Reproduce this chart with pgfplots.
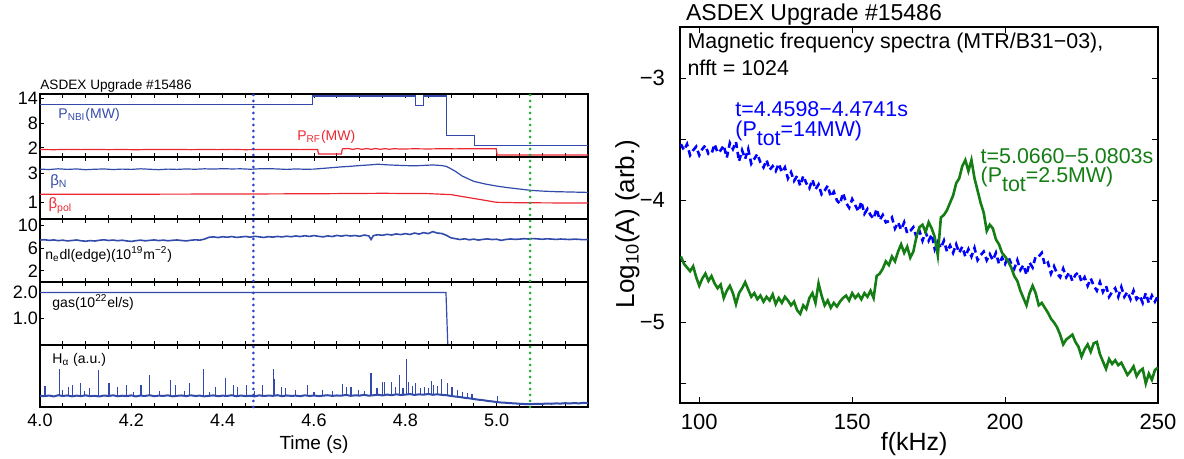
\documentclass[border=0pt]{standalone}
\usepackage{pgfplots}
\pgfplotsset{compat=1.18}
\usepackage{fontspec}
\setmainfont{Liberation Sans}

\definecolor{lblue}{RGB}{50,75,170}
\definecolor{lred}{RGB}{235,40,50}
\definecolor{sblue}{RGB}{0,0,255}
\definecolor{sgreen}{RGB}{20,125,20}
\definecolor{mblue}{RGB}{40,70,205}
\definecolor{mgreen}{RGB}{40,170,60}

\newcommand{\fs}[1]{\fontsize{#1}{#1}\selectfont}

\pgfplotsset{
  panel/.style={
    scale only axis, width=274pt, anchor=north west,
    xmin=4.0, xmax=5.2,
    xtick={4.0,4.2,4.4,4.6,4.8,5.0,5.2}, minor x tick num=3,
    xticklabels={},
    tick align=inside, xtick pos=both, ytick pos=left,
    major tick length=2.2pt, minor tick length=2.2pt,
    tick style={black, line width=0.5pt},
    axis line style={black, line width=0.7pt},
    yticklabel style={font=\fs{9}, xshift=2.5pt},
    xticklabel style={font=\fs{9}},
    clip mode=individual,
  },
}

\begin{document}
\begin{tikzpicture}
\path[use as bounding box] (0,0) rectangle (592pt,-229.5pt);

% ---------------- P_NBI and P_RF ----------------
\begin{axis}[panel, at={(20pt,-47pt)}, height=31.5pt,
  ymin=-0.2, ymax=15, ytick={2,8,14}, yticklabels={2,8,14}]
\addplot[lblue, line width=0.6pt] coordinates {
(4.000,12.5)(4.597,12.5)(4.597,14.5)(4.822,14.5)(4.822,12.2)(4.839,12.2)
(4.839,14.5)(4.891,14.5)(4.891,5.0)(4.951,5.0)(4.951,2.5)(5.200,2.5)};
\addplot[lred, line width=0.6pt] coordinates {
(4.000,1.62)(4.030,1.56)(4.060,1.64)(4.090,1.58)(4.120,1.63)(4.150,1.57)
(4.180,1.61)(4.210,1.55)(4.240,1.62)(4.270,1.59)(4.300,1.63)(4.330,1.57)
(4.360,1.61)(4.390,1.58)(4.420,1.64)(4.450,1.56)(4.480,1.62)(4.510,1.59)
(4.540,1.63)(4.570,1.58)(4.600,1.62)(4.608,1.62)(4.610,0.50)(4.660,0.50)
(4.662,1.75)(4.675,1.85)(4.685,1.62)(4.695,1.86)(4.705,1.64)(4.715,1.84)
(4.725,1.66)(4.735,1.83)(4.745,1.65)(4.755,1.82)(4.765,1.67)(4.775,1.80)
(4.790,1.72)(4.820,1.78)(4.850,1.74)(4.880,1.79)(4.910,1.76)(4.940,1.80)
(4.970,1.78)(4.999,1.80)(5.001,0.30)(5.200,0.30)};
\node[anchor=base west, font=\fs{6.8}, inner sep=0pt] at (rel axis cs:0,1) [yshift=2pt] {ASDEX Upgrade \#15486};
\node[anchor=west, font=\fs{7}, text=lblue, inner sep=0pt] at (rel axis cs:0.033,0.67) {P\textsubscript{NBI}(MW)};
\node[anchor=west, font=\fs{7}, text=lred, inner sep=0pt] at (rel axis cs:0.469,0.32) {P\textsubscript{RF}(MW)};
\end{axis}

% ---------------- beta_N and beta_pol ----------------
\begin{axis}[panel, at={(20pt,-78.5pt)}, height=31pt,
  ymin=-0.1, ymax=4.1, ytick={1,3}, yticklabels={1,3}]
\addplot[lblue, line width=0.6pt] coordinates {
(4.00,3.28)(4.02,3.25)(4.04,3.30)(4.06,3.26)(4.08,3.29)(4.10,3.24)(4.12,3.27)
(4.14,3.29)(4.16,3.25)(4.18,3.28)(4.20,3.26)(4.22,3.30)(4.24,3.27)(4.26,3.24)
(4.28,3.28)(4.30,3.26)(4.32,3.29)(4.34,3.27)(4.36,3.30)(4.38,3.28)(4.40,3.31)
(4.42,3.29)(4.44,3.30)(4.46,3.27)(4.48,3.30)(4.50,3.31)(4.52,3.29)(4.54,3.26)
(4.56,3.29)(4.58,3.27)(4.60,3.28)(4.62,3.33)(4.64,3.38)(4.66,3.43)(4.68,3.47)
(4.70,3.52)(4.72,3.56)(4.74,3.61)(4.76,3.57)(4.78,3.54)(4.80,3.52)(4.82,3.50)
(4.84,3.53)(4.86,3.56)(4.88,3.52)(4.89,3.46)(4.90,3.30)(4.91,3.12)(4.925,2.80)
(4.95,2.45)(4.975,2.27)(5.00,2.13)(5.025,2.02)(5.05,1.93)(5.075,1.84)(5.10,1.79)
(5.13,1.75)(5.16,1.73)(5.20,1.70)};
\addplot[lred, line width=0.6pt] coordinates {
(4.00,1.57)(4.20,1.58)(4.40,1.59)(4.60,1.61)(4.75,1.64)(4.85,1.62)(4.90,1.55)
(5.00,1.03)(5.05,1.00)(5.20,0.98)};
\node[anchor=west, font=\fs{7.5}, text=lblue, inner sep=0pt] at (rel axis cs:0.018,0.61) {β\textsubscript{N}};
\node[anchor=west, font=\fs{7.5}, text=lred, inner sep=0pt] at (rel axis cs:0.015,0.21) {β\textsubscript{pol}};
\end{axis}

% ---------------- line density ----------------
\begin{axis}[panel, at={(20pt,-109.5pt)}, height=31.5pt,
  ymin=0, ymax=11.2, ytick={2,6,10}, yticklabels={2,6,10}]
\addplot[lblue, line width=0.8pt] coordinates {
(4.00,7.45)(4.01,7.52)(4.02,7.40)(4.03,7.48)(4.04,7.35)(4.05,7.44)(4.06,7.30)
(4.07,7.38)(4.08,7.47)(4.09,7.33)(4.10,7.25)(4.11,7.36)(4.12,7.28)(4.13,7.42)
(4.14,7.50)(4.15,7.38)(4.16,7.46)(4.17,7.34)(4.18,7.43)(4.19,7.30)(4.20,7.22)
(4.21,7.35)(4.22,7.44)(4.23,7.32)(4.24,7.40)(4.25,7.48)(4.26,7.36)(4.27,7.45)
(4.28,7.33)(4.29,7.41)(4.30,7.47)(4.31,7.38)(4.32,7.30)(4.33,7.42)(4.34,7.50)
(4.35,7.44)(4.36,7.62)(4.37,7.95)(4.38,8.02)(4.39,7.90)(4.40,8.05)(4.41,7.96)
(4.42,8.08)(4.43,7.93)(4.44,8.00)(4.45,8.10)(4.46,7.97)(4.47,8.12)(4.48,8.03)
(4.49,7.92)(4.50,8.06)(4.51,7.98)(4.52,8.10)(4.53,8.01)(4.54,8.14)(4.55,8.05)
(4.56,8.18)(4.57,8.08)(4.58,8.22)(4.59,8.10)(4.60,8.25)(4.61,8.12)(4.62,8.02)
(4.63,8.20)(4.64,8.08)(4.65,8.28)(4.66,8.15)(4.67,8.30)(4.68,8.18)(4.69,8.26)
(4.70,8.12)(4.71,8.35)(4.72,8.20)(4.725,7.55)(4.73,8.25)(4.74,8.40)(4.75,8.30)
(4.76,8.48)(4.77,8.35)(4.78,8.55)(4.79,8.42)(4.80,8.60)(4.81,8.45)(4.82,8.70)
(4.83,8.52)(4.84,8.78)(4.85,8.60)(4.86,8.95)(4.87,8.70)(4.88,8.62)(4.89,8.30)
(4.90,7.85)(4.91,7.70)(4.92,7.55)(4.93,7.68)(4.94,7.50)(4.95,7.62)(4.96,7.45)
(4.97,7.58)(4.98,7.66)(4.99,7.55)(5.00,7.60)(5.01,7.40)(5.02,7.56)(5.03,7.65)
(5.04,7.58)(5.05,7.62)(5.06,7.70)(5.07,7.64)(5.08,7.72)(5.09,7.66)(5.10,7.60)
(5.11,7.68)(5.12,7.63)(5.13,7.57)(5.14,7.64)(5.15,7.60)(5.16,7.55)(5.17,7.62)
(5.18,7.58)(5.19,7.52)(5.20,7.56)};
\node[anchor=west, font=\fs{7}, inner sep=0pt] at (rel axis cs:0.009,0.44) {n\textsubscript{e}dl(edge)(10\textsuperscript{19}m\textsuperscript{−2})};
\end{axis}

% ---------------- gas puff ----------------
\begin{axis}[panel, at={(20pt,-141pt)}, height=31.5pt,
  ymin=0, ymax=2.4, ytick={1,2}, yticklabels={1.0,2.0}]
\addplot[lblue, line width=0.6pt] coordinates {
(4.000,2.0)(4.889,2.0)(4.893,0.0)};
\node[anchor=west, font=\fs{7}, inner sep=0pt] at (rel axis cs:0.022,0.67) {gas(10\textsuperscript{22}el/s)};
\end{axis}

% ---------------- H alpha ----------------
\begin{axis}[panel, at={(20pt,-172.5pt)}, height=31pt,
  ymin=0, ymax=1, ytick=\empty,
  xticklabels={4.0,4.2,4.4,4.6,4.8,5.0,{}},
  xlabel={Time (s)}, xlabel style={font=\fs{9.5}, yshift=2.5pt}]
\addplot[lblue, line width=1pt] coordinates {
(4.00,.180)(4.01,.175)(4.02,.185)(4.03,.170)(4.04,.190)(4.05,.178)(4.06,.186)
(4.07,.172)(4.08,.183)(4.09,.176)(4.10,.188)(4.11,.174)(4.12,.181)(4.13,.170)
(4.14,.185)(4.15,.177)(4.16,.189)(4.17,.173)(4.18,.182)(4.19,.176)(4.20,.187)
(4.21,.171)(4.22,.184)(4.23,.178)(4.24,.190)(4.25,.174)(4.26,.183)(4.27,.179)
(4.28,.188)(4.29,.172)(4.30,.180)(4.31,.186)(4.32,.175)(4.33,.189)(4.34,.177)
(4.35,.184)(4.36,.172)(4.37,.180)(4.38,.187)(4.39,.174)(4.40,.183)(4.41,.178)
(4.42,.190)(4.43,.173)(4.44,.185)(4.45,.176)(4.46,.182)(4.47,.171)(4.48,.188)
(4.49,.177)(4.50,.184)(4.51,.180)(4.52,.190)(4.53,.175)(4.54,.186)(4.55,.179)
(4.56,.183)(4.57,.174)(4.58,.189)(4.59,.178)(4.60,.185)(4.61,.176)(4.62,.183)
(4.63,.190)(4.64,.179)(4.65,.186)(4.66,.182)(4.67,.195)(4.68,.180)(4.69,.188)
(4.70,.184)(4.71,.196)(4.72,.182)(4.73,.190)(4.74,.198)(4.75,.186)(4.76,.200)
(4.77,.190)(4.78,.205)(4.79,.193)(4.80,.200)(4.81,.208)(4.82,.195)(4.83,.204)
(4.84,.198)(4.85,.210)(4.86,.197)(4.87,.205)(4.88,.195)(4.89,.190)(4.90,.178)
(4.91,.168)(4.92,.160)(4.93,.148)(4.94,.140)(4.95,.128)(4.96,.118)(4.97,.110)
(4.98,.098)(4.99,.090)(5.00,.080)(5.01,.072)(5.02,.068)(5.03,.062)(5.04,.058)
(5.05,.052)(5.06,.048)(5.07,.045)(5.08,.048)(5.09,.052)(5.10,.050)(5.11,.056)
(5.12,.052)(5.13,.058)(5.14,.055)(5.15,.062)(5.16,.057)(5.17,.064)(5.18,.058)
(5.19,.068)(5.20,.062)};
% ELM spikes
\addplot[lblue, line width=0.6pt, unbounded coords=jump] coordinates {
(4.011,.18)(4.011,.34)(4.011,nan) (4.042,.18)(4.042,.62)(4.042,nan)
(4.050,.18)(4.050,.27)(4.050,nan) (4.063,.18)(4.063,.33)(4.063,nan)
(4.071,.18)(4.071,.35)(4.071,nan) (4.088,.18)(4.088,.38)(4.088,nan)
(4.098,.18)(4.098,.25)(4.098,nan) (4.109,.18)(4.109,.30)(4.109,nan)
(4.128,.18)(4.128,.59)(4.128,nan) (4.151,.18)(4.151,.38)(4.151,nan)
(4.170,.18)(4.170,.33)(4.170,nan) (4.190,.18)(4.190,.36)(4.190,nan)
(4.205,.18)(4.205,.24)(4.205,nan) (4.221,.18)(4.221,.35)(4.221,nan)
(4.239,.18)(4.239,.52)(4.239,nan) (4.262,.18)(4.262,.26)(4.262,nan)
(4.286,.18)(4.286,.44)(4.286,nan) (4.297,.18)(4.297,.35)(4.297,nan)
(4.316,.18)(4.316,.25)(4.316,nan) (4.328,.18)(4.328,.38)(4.328,nan)
(4.358,.18)(4.358,.62)(4.358,nan) (4.372,.18)(4.372,.24)(4.372,nan)
(4.385,.18)(4.385,.33)(4.385,nan) (4.406,.18)(4.406,.46)(4.406,nan)
(4.423,.18)(4.423,.36)(4.423,nan) (4.433,.18)(4.433,.33)(4.433,nan)
(4.452,.18)(4.452,.35)(4.452,nan) (4.470,.18)(4.470,.26)(4.470,nan)
(4.487,.18)(4.487,.36)(4.487,nan) (4.511,.18)(4.511,.61)(4.511,nan)
(4.514,.18)(4.514,.45)(4.514,nan) (4.528,.18)(4.528,.33)(4.528,nan)
(4.538,.18)(4.538,.30)(4.538,nan) (4.560,.18)(4.560,.28)(4.560,nan)
(4.586,.18)(4.586,.35)(4.586,nan) (4.600,.18)(4.600,.24)(4.600,nan)
(4.619,.18)(4.619,.27)(4.619,nan) (4.640,.18)(4.640,.25)(4.640,nan)
(4.663,.18)(4.663,.37)(4.663,nan) (4.672,.18)(4.672,.33)(4.672,nan)
(4.681,.18)(4.681,.33)(4.681,nan) (4.698,.18)(4.698,.28)(4.698,nan)
(4.710,.19)(4.710,.26)(4.710,nan) (4.725,.19)(4.725,.55)(4.725,nan)
(4.738,.19)(4.738,.30)(4.738,nan) (4.750,.19)(4.750,.40)(4.750,nan)
(4.754,.19)(4.754,.41)(4.754,nan) (4.769,.19)(4.769,.40)(4.769,nan)
(4.778,.19)(4.778,.32)(4.778,nan) (4.787,.19)(4.787,.51)(4.787,nan)
(4.795,.19)(4.795,.30)(4.795,nan) (4.803,.19)(4.803,.77)(4.803,nan)
(4.807,.19)(4.807,.41)(4.807,nan) (4.815,.19)(4.815,.34)(4.815,nan)
(4.823,.19)(4.823,.38)(4.823,nan) (4.833,.19)(4.833,.30)(4.833,nan)
(4.842,.19)(4.842,.33)(4.842,nan) (4.850,.19)(4.850,.31)(4.850,nan)
(4.858,.19)(4.858,.42)(4.858,nan) (4.861,.19)(4.861,.35)(4.861,nan)
(4.870,.19)(4.870,.34)(4.870,nan) (4.880,.19)(4.880,.45)(4.880,nan)
(4.892,.18)(4.892,.39)(4.892,nan) (4.902,.17)(4.902,.33)(4.902,nan)
(4.915,.16)(4.915,.27)(4.915,nan) (4.925,.15)(4.925,.24)(4.925,nan)
(4.936,.14)(4.936,.22)(4.936,nan) (4.946,.13)(4.946,.21)(4.946,nan)
(5.002,.075)(5.002,.17)(5.002,nan)};
\node[anchor=west, font=\fs{7}, inner sep=0pt] at (rel axis cs:0.022,0.76) {H\textsubscript{α} (a.u.)};
\end{axis}

% ---------------- time markers across the stack ----------------
\begin{axis}[scale only axis, width=274pt, height=156.5pt, anchor=north west,
  at={(20pt,-47pt)}, xmin=4.0, xmax=5.2, ymin=0, ymax=1, hide axis, clip=false]
\addplot[mblue, line width=1.5pt, line cap=round, dash pattern=on 0pt off 3pt] coordinates {(4.467,0)(4.467,1)};
\addplot[mgreen, line width=1.5pt, line cap=round, dash pattern=on 0pt off 3pt] coordinates {(5.073,0)(5.073,1)};
\end{axis}

% ---------------- magnetic spectra ----------------
\begin{axis}[scale only axis, width=239pt, height=188pt, anchor=north west,
  at={(340pt,-13.5pt)},
  xmin=93.7, xmax=250, ymin=-5.66, ymax=-2.58,
  xtick={100,150,200,250}, xticklabels={100,150,200,250},
  ytick={-5,-4,-3}, yticklabels={−5,−4,−3},
  minor ytick={-5.5,-4.5,-3.5},
  tick align=inside, xtick pos=both, ytick pos=both,
  major tick length=3pt, minor tick length=3pt,
  tick style={black, line width=0.5pt},
  axis line style={black, line width=0.8pt},
  ticklabel style={font=\fs{11}},
  yticklabel style={xshift=-4pt},
  xticklabel style={yshift=-2pt},
  xlabel={f(kHz)}, xlabel style={font=\fs{12.5}, at={(axis description cs:0.49,0)}, anchor=north, yshift=-11pt},
  ylabel={Log\textsubscript{10}(A) (arb.)},
  ylabel style={font=\fs{13}, at={(axis description cs:-0.11,0.476)}, anchor=center},
  clip mode=individual]
\addplot[sblue, line width=1.3pt, dash pattern=on 3pt off 2pt] coordinates {
(94,-3.54)(95,-3.59)(96,-3.54)(97,-3.63)(98,-3.59)(99,-3.56)(100,-3.63)
(101,-3.58)(102,-3.55)(103,-3.62)(104,-3.62)(105,-3.54)(106,-3.61)(107,-3.59)
(108,-3.55)(109,-3.65)(110,-3.53)(111,-3.58)(112,-3.52)(113,-3.68)(114,-3.59)
(115,-3.66)(116,-3.58)(117,-3.70)(118,-3.66)(119,-3.62)(120,-3.69)(121,-3.73)
(122,-3.67)(123,-3.75)(124,-3.72)(125,-3.76)(126,-3.70)(127,-3.77)(128,-3.73)
(129,-3.82)(130,-3.77)(131,-3.84)(132,-3.80)(133,-3.88)(134,-3.80)(135,-3.86)
(136,-3.90)(137,-3.83)(138,-3.91)(139,-3.87)(140,-3.95)(141,-3.92)(142,-3.88)
(143,-3.97)(144,-3.93)(145,-4.00)(146,-4.03)(147,-3.94)(148,-4.02)(149,-4.06)
(150,-3.99)(151,-4.04)(152,-4.09)(153,-4.01)(154,-4.11)(155,-4.07)(156,-4.12)
(157,-4.15)(158,-4.07)(159,-4.16)(160,-4.12)(161,-4.18)(162,-4.17)(163,-4.14)
(164,-4.23)(165,-4.18)(166,-4.24)(167,-4.18)(168,-4.27)(169,-4.25)(170,-4.22)
(171,-4.30)(172,-4.25)(173,-4.33)(174,-4.26)(175,-4.33)(176,-4.28)(177,-4.40)
(178,-4.34)(179,-4.39)(180,-4.33)(181,-4.42)(182,-4.37)(183,-4.43)(184,-4.36)
(185,-4.43)(186,-4.38)(187,-4.46)(188,-4.40)(189,-4.46)(190,-4.39)(191,-4.49)
(192,-4.45)(193,-4.42)(194,-4.49)(195,-4.44)(196,-4.49)(197,-4.43)(198,-4.52)
(199,-4.47)(200,-4.52)(201,-4.46)(202,-4.52)(203,-4.56)(204,-4.49)(205,-4.57)
(206,-4.53)(207,-4.61)(208,-4.51)(209,-4.55)(210,-4.46)(211,-4.46)(212,-4.43)
(213,-4.53)(214,-4.51)(215,-4.60)(216,-4.54)(217,-4.60)(218,-4.63)(219,-4.56)
(220,-4.63)(221,-4.59)(222,-4.66)(223,-4.61)(224,-4.59)(225,-4.67)(226,-4.63)
(227,-4.70)(228,-4.64)(229,-4.70)(230,-4.74)(231,-4.67)(232,-4.75)(233,-4.70)
(234,-4.79)(235,-4.75)(236,-4.72)(237,-4.79)(238,-4.71)(239,-4.79)(240,-4.75)
(241,-4.81)(242,-4.74)(243,-4.81)(244,-4.78)(245,-4.84)(246,-4.76)(247,-4.84)
(248,-4.78)(249,-4.83)(250,-4.78)};
\addplot[sgreen, line width=1.3pt] coordinates {
(94,-4.46)(95,-4.52)(96,-4.55)(97,-4.58)(98,-4.54)(99,-4.63)(100,-4.70)
(101,-4.64)(102,-4.60)(103,-4.66)(104,-4.62)(105,-4.68)(106,-4.72)(107,-4.69)
(108,-4.80)(109,-4.74)(110,-4.70)(111,-4.76)(112,-4.85)(113,-4.76)(114,-4.72)
(115,-4.67)(116,-4.73)(117,-4.79)(118,-4.76)(119,-4.81)(120,-4.78)(121,-4.83)
(122,-4.79)(123,-4.82)(124,-4.77)(125,-4.85)(126,-4.80)(127,-4.84)(128,-4.79)
(129,-4.82)(130,-4.86)(131,-4.83)(132,-4.90)(133,-4.93)(134,-4.86)(135,-4.89)
(136,-4.80)(137,-4.76)(138,-4.84)(139,-4.68)(140,-4.78)(141,-4.86)(142,-4.82)
(143,-4.88)(144,-4.84)(145,-4.87)(146,-4.83)(147,-4.80)(148,-4.78)(149,-4.82)
(150,-4.76)(151,-4.80)(152,-4.77)(153,-4.81)(154,-4.76)(155,-4.79)(156,-4.74)
(157,-4.80)(158,-4.62)(159,-4.60)(160,-4.56)(161,-4.50)(162,-4.53)(163,-4.46)
(164,-4.50)(165,-4.42)(166,-4.36)(167,-4.43)(168,-4.38)(169,-4.47)(170,-4.42)
(171,-4.30)(172,-4.22)(173,-4.20)(174,-4.26)(175,-4.18)(176,-4.23)(177,-4.30)
(178,-4.45)(179,-4.14)(180,-4.12)(181,-4.08)(182,-4.02)(183,-3.96)(184,-3.86)
(185,-3.82)(186,-3.72)(187,-3.67)(188,-3.76)(189,-3.67)(190,-3.82)(191,-3.92)
(192,-4.02)(193,-4.10)(194,-4.25)(195,-4.20)(196,-4.23)(197,-4.32)(198,-4.36)
(199,-4.43)(200,-4.46)(201,-4.50)(202,-4.55)(203,-4.62)(204,-4.66)(205,-4.74)
(206,-4.80)(207,-4.86)(208,-4.76)(209,-4.70)(210,-4.76)(211,-4.86)(212,-4.84)
(213,-4.88)(214,-4.92)(215,-4.97)(216,-5.00)(217,-5.04)(218,-5.10)(219,-5.18)
(220,-5.14)(221,-5.12)(222,-5.10)(223,-5.16)(224,-5.20)(225,-5.28)(226,-5.22)
(227,-5.18)(228,-5.24)(229,-5.17)(230,-5.16)(231,-5.26)(232,-5.32)(233,-5.38)
(234,-5.30)(235,-5.34)(236,-5.31)(237,-5.35)(238,-5.33)(239,-5.38)(240,-5.43)
(241,-5.40)(242,-5.36)(243,-5.44)(244,-5.40)(245,-5.38)(246,-5.50)(247,-5.42)
(248,-5.47)(249,-5.39)(250,-5.37)};
\node[anchor=base west, font=\fs{11.5}, inner sep=0pt] at (rel axis cs:0.012,1) [yshift=3.2pt] {ASDEX Upgrade \#15486};
\node[anchor=base west, font=\fs{10.7}, inner sep=0pt] at (rel axis cs:0.015,0.9434) {Magnetic frequency spectra (MTR/B31−03),};
\node[anchor=base west, font=\fs{10.7}, inner sep=0pt] at (rel axis cs:0.015,0.872) {nfft = 1024};
\node[anchor=base west, font=\fs{10.7}, text=sblue, inner sep=0pt] at (axis cs:111.7,-3.31) {t=4.4598−4.4741s};
\node[anchor=base west, font=\fs{10.7}, text=sblue, inner sep=0pt] at (axis cs:111.7,-3.475) {(P\raisebox{-0.45em}{tot}=14MW)};
\node[anchor=base west, font=\fs{10.7}, text=sgreen, inner sep=0pt] at (axis cs:191.9,-3.70) {t=5.0660−5.0803s};
\node[anchor=base west, font=\fs{10.7}, text=sgreen, inner sep=0pt] at (axis cs:191.9,-3.85) {(P\raisebox{-0.45em}{tot}=2.5MW)};
\end{axis}
\end{tikzpicture}
\end{document}
